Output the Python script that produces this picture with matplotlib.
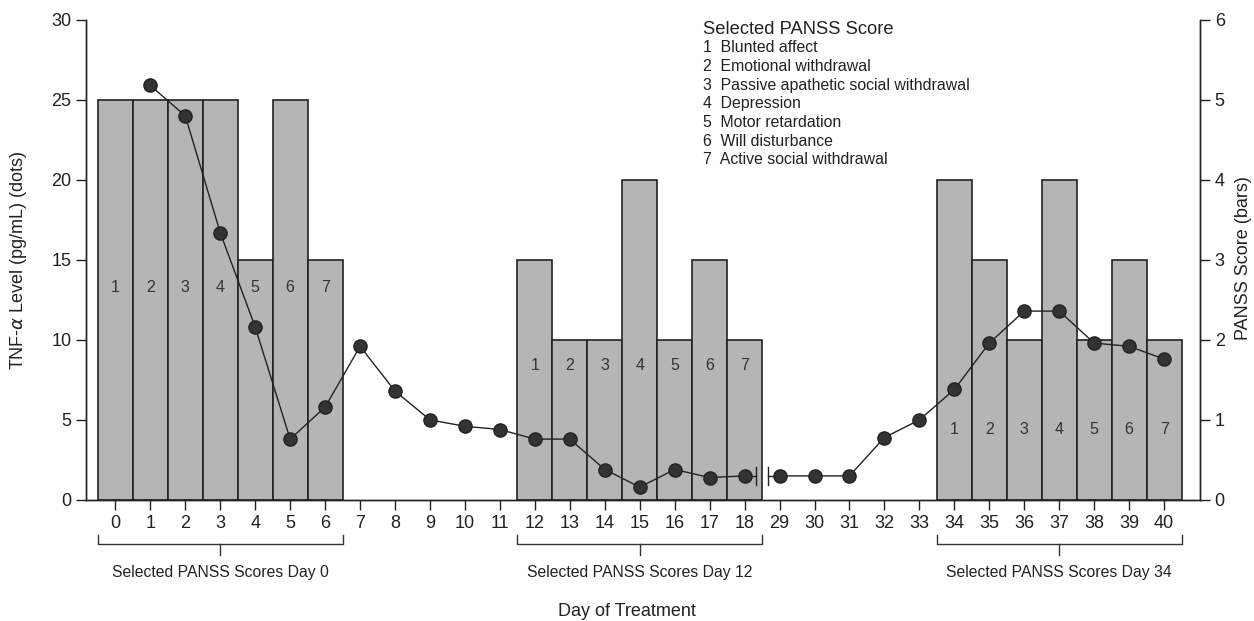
import matplotlib
matplotlib.use("Agg")
import matplotlib.pyplot as plt
import matplotlib.transforms as mtransforms

plt.rcParams["font.family"] = ["Liberation Sans", "DejaVu Sans"]

# Day labels on the categorical x axis (gap 19-28 collapsed)
days = [0, 1, 2, 3, 4, 5, 6, 7, 8, 9, 10, 11, 12, 13, 14, 15, 16, 17, 18,
        29, 30, 31, 32, 33, 34, 35, 36, 37, 38, 39, 40]

# TNF-alpha (pg/mL), days 1..18 and 29..40
tnf_days_a = [1, 2, 3, 4, 5, 6, 7, 8, 9, 10, 11, 12, 13, 14, 15, 16, 17, 18]
tnf_vals_a = [25.9, 24.0, 16.7, 10.8, 3.8, 5.8, 9.6, 6.8, 5.0, 4.6, 4.4, 3.8, 3.8,
              1.9, 0.8, 1.9, 1.4, 1.5]
tnf_days_b = [29, 30, 31, 32, 33, 34, 35, 36, 37, 38, 39, 40]
tnf_vals_b = [1.5, 1.5, 1.5, 3.9, 5.0, 6.9, 9.8, 11.8, 11.8, 9.8, 9.6, 8.8]

# PANSS scores (items 1-7) at three time points
panss_start_days = [0, 12, 34]
panss_day0 = [5, 5, 5, 5, 3, 5, 3]
panss_day12 = [3, 2, 2, 4, 2, 3, 2]
panss_day34 = [4, 3, 2, 4, 2, 3, 2]
item_labels = ["1", "2", "3", "4", "5", "6", "7"]
legend_items = ["Blunted affect", "Emotional withdrawal",
                "Passive apathetic social withdrawal", "Depression",
                "Motor retardation", "Will disturbance", "Active social withdrawal"]

pos_of = {d: i for i, d in enumerate(days)}

fig = plt.figure(figsize=(12.54, 6.21), dpi=100)
ax = fig.add_axes([0.0686, 0.195, 0.8884, 0.773])
ax2 = ax.twinx()

bar_color = "#b5b5b5"
edge = "#222222"
label_heights = [2.65, 1.68, 0.88]  # in PANSS units, where the item numbers sit
for start, scores, lh in zip(panss_start_days, [panss_day0, panss_day12, panss_day34], label_heights):
    p0 = pos_of[start]
    xs = [p0 + k for k in range(len(scores))]
    ax2.bar(xs, scores, width=1.0, color=bar_color, edgecolor=edge, linewidth=1.2, zorder=1)
    for x, lab in zip(xs, item_labels):
        ax2.text(x, lh, lab, ha="center", va="center", fontsize=11.5, color="#333333")

# TNF dots above bars
ax.set_zorder(ax2.get_zorder() + 1)
ax.patch.set_visible(False)

xa = [pos_of[d] for d in tnf_days_a]
xb = [pos_of[d] for d in tnf_days_b]
ax.plot(xa, tnf_vals_a, "-o", color="#222222", lw=1.0, markersize=9.5,
        markerfacecolor="#333333", markeredgecolor="#222222", zorder=3)
ax.plot(xb, tnf_vals_b, "-o", color="#222222", lw=1.0, markersize=9.5,
        markerfacecolor="#333333", markeredgecolor="#222222", zorder=3)
# axis break marks between day 18 and day 29
cap1 = xa[-1] + 0.33
cap2 = xb[0] - 0.33
ax.plot([xa[-1], cap1], [tnf_vals_a[-1], tnf_vals_a[-1]], color="#222222", lw=1.0)
ax.plot([cap2, xb[0]], [tnf_vals_b[0], tnf_vals_b[0]], color="#222222", lw=1.0)
ax.plot([cap1, cap1], [tnf_vals_a[-1] - 0.55, tnf_vals_a[-1] + 0.55], color="#222222", lw=1.0)
ax.plot([cap2, cap2], [tnf_vals_b[0] - 0.55, tnf_vals_b[0] + 0.55], color="#222222", lw=1.0)

ax.set_xlim(-0.84, 31.03)
ax.set_ylim(0, 30)
ax2.set_ylim(0, 6)
ax.set_yticks([0, 5, 10, 15, 20, 25, 30])
ax2.set_yticks([0, 1, 2, 3, 4, 5, 6])
ax.set_xticks(range(len(days)))
ax.set_xticklabels([str(d) for d in days])

for a in (ax, ax2):
    a.spines["top"].set_visible(False)
    for s in ("left", "right", "bottom"):
        a.spines[s].set_linewidth(1.0)
        a.spines[s].set_color("#222222")
ax.tick_params(axis="both", direction="out", length=7, width=1.0, colors="#222222",
               labelsize=13, labelcolor="#222222")
ax.tick_params(axis="x", pad=4)
ax2.tick_params(axis="y", direction="out", length=7, width=1.0, colors="#222222",
                labelsize=13, labelcolor="#222222")

# brackets under each PANSS group
trans = mtransforms.blended_transform_factory(ax.transData, ax.transAxes)
group_names = ["Selected PANSS Scores Day 0", "Selected PANSS Scores Day 12",
               "Selected PANSS Scores Day 34"]
for start, name in zip(panss_start_days, group_names):
    left = pos_of[start] - 0.5
    right = pos_of[start] + 6.5
    mid = pos_of[start] + 3
    ax.plot([left, left, right, right], [-0.073, -0.0917, -0.0917, -0.073],
            transform=trans, clip_on=False, color="#333333", lw=1.0)
    ax.plot([mid, mid], [-0.0917, -0.1146], transform=trans, clip_on=False,
            color="#333333", lw=1.0)
    ax.text(mid, -0.152, name, transform=trans, ha="center", va="center",
            fontsize=11.3, color="#222222")

fig.text(0.5, 1 - 611 / 621, "Day of Treatment", ha="center", va="center",
         fontsize=13, color="#222222")
fig.text(19 / 1254, 1 - 260 / 621, r"TNF-$\alpha$ Level (pg/mL) (dots)", rotation=90,
         ha="center", va="center", fontsize=13, color="#222222")
fig.text(1244 / 1254, 1 - 258 / 621, "PANSS Score (bars)", rotation=90,
         ha="center", va="center", fontsize=13, color="#222222")

# legend text block
lx = 703 / 1254
fig.text(lx, 1 - 29 / 621, "Selected PANSS Score", ha="left", va="center",
         fontsize=13.2, color="#222222")
for i, (num, name) in enumerate(zip(item_labels, legend_items)):
    fig.text(lx, 1 - (48 + 18.6 * i) / 621, f"{num}  {name}", ha="left", va="center",
             fontsize=11.4, color="#222222")

fig.savefig("out.png", dpi=100, facecolor="white")
